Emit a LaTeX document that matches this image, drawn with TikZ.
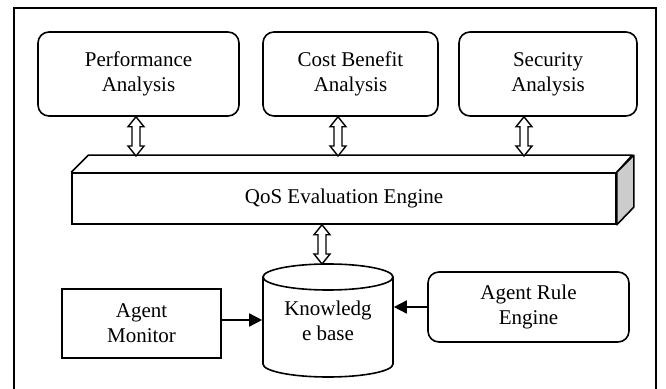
\documentclass[tikz,border=0pt]{standalone}
\usepackage{fontspec}
\setmainfont{Liberation Serif}
\usetikzlibrary{calc,arrows.meta}

% vertical hollow double-headed arrow from #1 (upper end) to #2 (lower end)
\newcommand\hollowdbl[2]{%
  \draw[hollowarrow] let \p1=(#1), \p2=(#2) in
    (\x1,\y1) -- (\x1+8pt,\y1-10pt) -- (\x1+4pt,\y1-10pt) -- (\x1+4pt,\y2+10pt)
    -- (\x1+8pt,\y2+10pt) -- (\x1,\y2) -- (\x1-8pt,\y2+10pt) -- (\x1-4pt,\y2+10pt)
    -- (\x1-4pt,\y1-10pt) -- (\x1-8pt,\y1-10pt) -- cycle;}

\begin{document}
\begin{tikzpicture}[x=1pt,y=1pt,
  line width=1.6pt,
  every node/.style={font=\fontsize{21}{25}\selectfont, align=center, inner sep=0pt},
  roundbox/.style={draw, rounded corners=11pt},
  plainbox/.style={draw},
  hollowarrow/.style={draw, fill=white, line width=1.4pt, line join=miter},
  feed/.style={-{Triangle[length=13pt,width=13pt]}, line width=1.6pt},
  sideface/.style={draw, fill=black!20, line join=round}]
\useasboundingbox (0,0) rectangle (666,388);

% outer frame
\draw (14,380) rectangle (656,-20);

% analysis modules
\node[roundbox, minimum width=201, minimum height=84] (perf) at (138.5,314) {Performance\\Analysis};
\node[roundbox, minimum width=175, minimum height=84] (cost) at (350.5,314) {Cost Benefit\\Analysis};
\node[roundbox, minimum width=178, minimum height=84] (sec)  at (548,314)   {Security\\Analysis};

% QoS evaluation engine drawn as a 3D block
\node[plainbox, minimum width=544, minimum height=51] (qos) at (344,189.5) {QoS Evaluation Engine};
\draw[line join=round] (qos.north west) -- ++(17,17) -- ++(544,0) -- (qos.north east);
\draw[sideface] (qos.north east) -- ++(17,17) -- ++(0,-52) -- (qos.south east) -- cycle;

% attachment points on the top edge of the block
\coordinate (qp) at (136,232);
\coordinate (qc) at (338,232);
\coordinate (qs) at (524,232);

\hollowdbl{qp |- perf.south}{qp}
\hollowdbl{qc |- cost.south}{qc}
\hollowdbl{qs |- sec.south}{qs}

% knowledge base cylinder
\node[minimum width=130, minimum height=113] (kb) at (328,67.5) {Knowledg\\e base};
\draw[fill=none] (328,111) ellipse [x radius=65, y radius=13];
\draw (263,111) -- (263,24) arc[start angle=180, end angle=360, x radius=65, y radius=13] -- (393,111);

\coordinate (kbtop) at (322,124);
\hollowdbl{kbtop |- qos.south}{kbtop}

% agents
\node[plainbox, minimum width=159, minimum height=69] (mon) at (141.5,64.5) {Agent\\Monitor};
\node[roundbox, minimum width=201, minimum height=70] (rule) at (528.5,81) {Agent Rule\\Engine};

\draw[feed] ([yshift=3.5pt]mon.east) -- ([yshift=3.5pt]mon.east -| kb.west);
\draw[feed] (rule.west) -- (rule.west -| kb.east);
\end{tikzpicture}
\end{document}
